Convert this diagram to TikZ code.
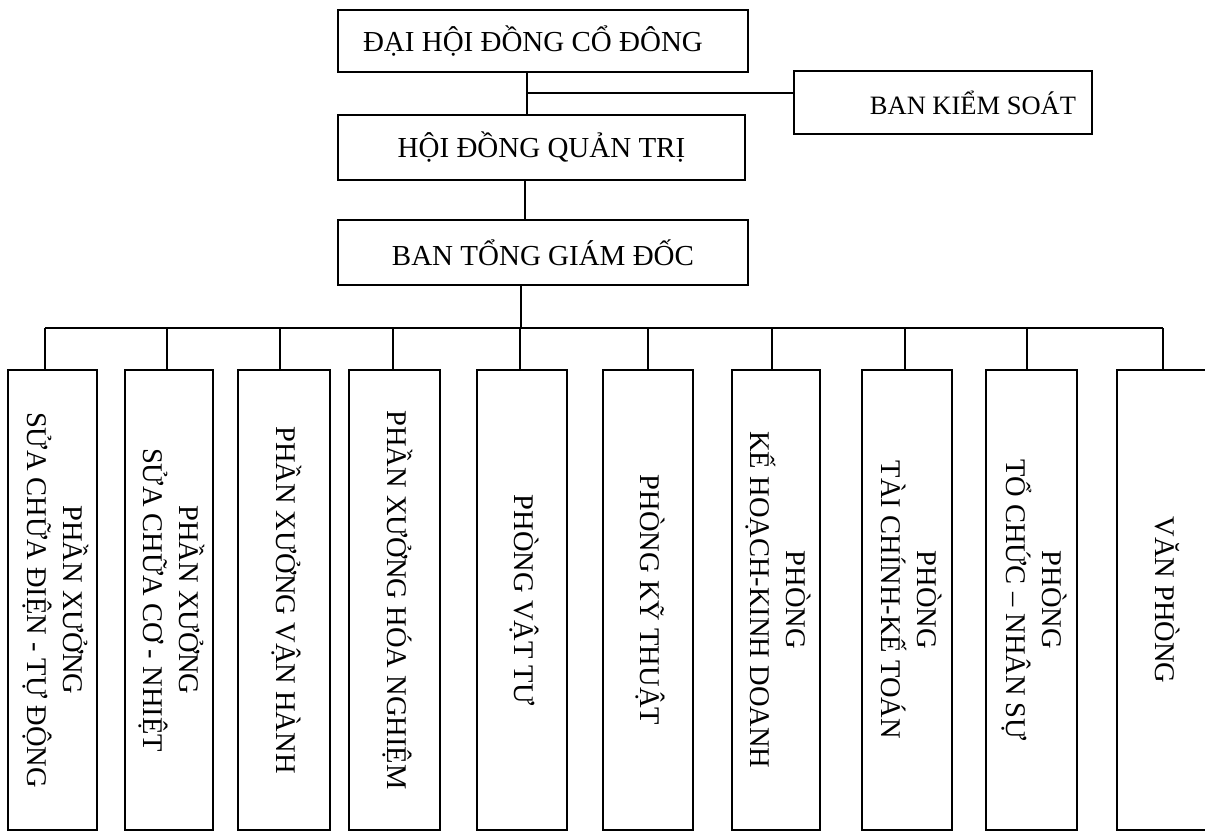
\documentclass[tikz,border=0pt]{standalone}
\usepackage{fontspec}
\usepackage{graphicx}
\setmainfont{Liberation Serif}
\newcommand{\vtext}[1]{\rotatebox{-90}{\begin{tabular}{@{}c@{}}#1\end{tabular}}}
\begin{document}
\begin{tikzpicture}[x=1pt,y=-1pt,line width=2.2pt,
  hbox/.style={draw, rectangle, inner sep=0pt, align=center, font=\fontsize{29}{35}\selectfont},
  vbox/.style={draw, rectangle, inner sep=0pt, minimum height=460pt, font=\fontsize{28.5}{36}\selectfont},
  link/.style={draw, line width=2.2pt}]
\useasboundingbox[fill=white] (0,0) rectangle (1205,833);

% top level boxes
\node[hbox, minimum width=410pt, minimum height=62pt] (dhd) at (543,41) {ĐẠI HỘI ĐỒNG CỔ ĐÔNG\hspace*{20pt}};
\node[hbox, minimum width=298pt, minimum height=63pt, font=\fontsize{26.5}{32}\selectfont] (bks) at (943,102.5) {\hspace*{60pt}BAN KIỂM SOÁT};
\node[hbox, minimum width=407pt, minimum height=65pt] (hdqt) at (541.5,147.5) {HỘI ĐỒNG QUẢN TRỊ};
\node[hbox, minimum width=410pt, minimum height=65pt] (btgd) at (543,252.5) {BAN TỔNG GIÁM ĐỐC};

% bottom boxes
\node[vbox, minimum width=89pt] (b1) at (52.5,600) {\vtext{PHẦN XƯỞNG\\SỬA CHỮA ĐIỆN - TỰ ĐỘNG}};
\node[vbox, minimum width=88pt] (b2) at (169,600) {\vtext{PHẦN XƯỞNG\\SỬA CHỮA CƠ - NHIỆT}};
\node[vbox, minimum width=92pt] (b3) at (284,600) {\vtext{PHẦN XƯỞNG VẬN HÀNH}};
\node[vbox, minimum width=91pt] (b4) at (394.5,600) {\vtext{PHẦN XƯỞNG HÓA NGHIỆM}};
\node[vbox, minimum width=90pt] (b5) at (522,600) {\vtext{PHÒNG VẬT TƯ}};
\node[vbox, minimum width=90pt] (b6) at (648,600) {\vtext{PHÒNG KỸ THUẬT}};
\node[vbox, minimum width=88pt] (b7) at (776,600) {\vtext{PHÒNG\\KẾ HOẠCH-KINH DOANH}};
\node[vbox, minimum width=90pt] (b8) at (907,600) {\vtext{PHÒNG\\TÀI CHÍNH-KẾ TOÁN}};
\node[vbox, minimum width=91pt] (b9) at (1031.5,600) {\vtext{PHÒNG\\TỔ CHỨC – NHÂN SỰ}};
\node[vbox, minimum width=91pt] (b10) at (1162.5,600) {\vtext{VĂN PHÒNG}};

% trunk coordinates
\coordinate (t1) at (527,93);
\coordinate (t2) at (525,200);
\coordinate (t3) at (521,328);

% connectors top
\draw[link] (dhd.south -| t1) -- (hdqt.north -| t1);
\draw[link] (t1) -- (t1 -| bks.west);
\draw[link] (hdqt.south -| t2) -- (btgd.north -| t2);
\draw[link] (btgd.south -| t3) -- (t3);

% bus and stems
\foreach \b/\dx in {b1/-7.5, b2/-2, b3/-4, b4/-1.5, b5/-2, b6/0, b7/-4, b8/-2, b9/-4.5, b10/0.5} {
  \coordinate (s\b) at ([xshift=\dx pt]\b.north |- t3);
  \draw[link] (s\b) -- ([xshift=\dx pt]\b.north);
}
\draw[link] (sb1) -- (sb10);
\end{tikzpicture}
\end{document}
